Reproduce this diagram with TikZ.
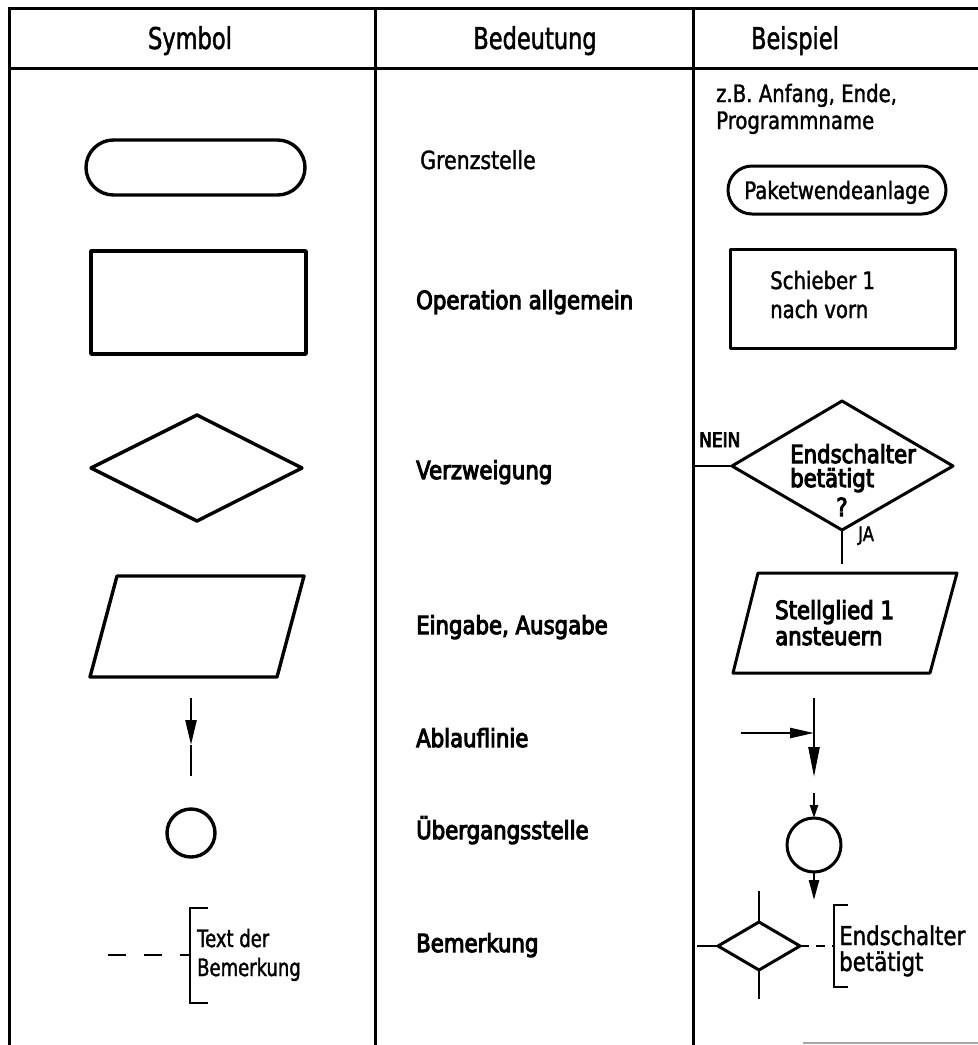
\documentclass[tikz,border=0pt]{standalone}
\usepackage{fontspec}
\setmainfont[FakeStretch=0.82,FakeBold=1.5]{DejaVu Sans}
\newfontfamily\hdrfont[FakeStretch=0.75,FakeBold=1.5]{DejaVu Sans}
\newfontfamily\regfont[FakeStretch=0.82,FakeBold=1.5]{DejaVu Sans}
\newfontfamily\heavyfont[FakeStretch=0.85,FakeBold=4]{DejaVu Sans}
\newfontfamily\notefont[FakeStretch=0.75,FakeBold=1.5]{DejaVu Sans}
\usetikzlibrary{arrows.meta,calc}
\begin{document}
\begin{tikzpicture}[x=1pt,y=-1pt,
  frame/.style={line width=3pt},
  outline/.style={line width=3.4pt,line join=round},
  exoutline/.style={line width=3pt,line join=round},
  conn/.style={line width=2.4pt},
  hdr/.style={font=\hdrfont\fontsize{30}{32}\selectfont,anchor=base,inner sep=0},
  mid/.style={font=\regfont\fontsize{25}{28}\selectfont,anchor=base west,inner sep=0},
  midb/.style={font=\heavyfont\fontsize{25}{28}\selectfont,anchor=base west,inner sep=0},
  ex/.style={font=\regfont\fontsize{24}{27}\selectfont,anchor=base west,inner sep=0},
  exb/.style={font=\heavyfont\fontsize{25}{28}\selectfont,anchor=base west,inner sep=0},
  small/.style={font=\regfont\fontsize{20}{22}\selectfont,anchor=base west,inner sep=0},
  smallb/.style={font=\heavyfont\fontsize{20}{22}\selectfont,anchor=base west,inner sep=0},
  note/.style={font=\notefont\fontsize{24}{26}\selectfont,anchor=base west,inner sep=0},
  notebig/.style={font=\regfont\fontsize{26}{28}\selectfont,anchor=base west,inner sep=0}]
\useasboundingbox (0,0) rectangle (978,1045);
\fill[white] (0,0) rectangle (978,1045);

% table frame
\draw[frame] (978,8) -- (9,8) -- (9,1045);
\draw[frame] (375,8) -- (375,1045);
\draw[frame] (693,8) -- (693,1045);
\draw[frame] (9,68) -- (978,68);
\draw[line width=2pt,gray!70] (803,1043) -- (978,1043);

% header
\node[hdr] (hsym) at (190,49) {Symbol};
\node[hdr] (hbed) at (535,49) {Bedeutung};
\node[hdr] (hbei) at (795,49) {Beispiel};

% meanings
\node[mid]  (m1) at (420,169) {Grenzstelle};
\node[midb] (m2) at (416,309) {Operation allgemein};
\node[midb] (m3) at (416,479) {Verzweigung};
\node[midb] (m4) at (416,634) {Eingabe, Ausgabe};
\node[midb] (m5) at (416,747) {Ablauflinie};
\node[midb] (m6) at (416,839) {Übergangsstelle};
\node[midb] (m7) at (416,952) {Bemerkung};

% symbols
\draw[outline,rounded corners=27.5pt] (86,140) rectangle (305,195);
\draw[outline] (91,251) rectangle (306,354);
\draw[outline] (91,468) -- (197,415) -- (302,468) -- (197,521) -- cycle;
\draw[outline] (117,576) -- (304,576) -- (277,677) -- (90,677) -- cycle;

\coordinate (s1) at (191,698);
\coordinate (s2) at (191,745);
\coordinate (s3) at (191,776);
\draw[conn,-{Triangle[length=25pt,width=11pt]}] (s1) -- (s2);
\draw[conn] (s2) -- (s3);

\draw[outline] (191,833) circle (24);

\coordinate (d0) at (108,955);
\coordinate (d1) at (190,955);
\draw[conn,dash pattern=on 18pt off 18pt] (d0) -- (d1);
\draw[conn] (208,908) -- (190,908) -- (190,1003) -- (208,1003);
\node[note] (n1) at (197,947) {Text der};
\node[note] (n2) at (197,976) {Bemerkung};

% examples: terminator and operation
\node[ex] (e1) at (716,102) {z.B.\ Anfang, Ende,};
\node[ex] (e2) at (716,129) {Programmname};
\draw[exoutline,rounded corners=24pt] (728,166) rectangle (946,214);
\node[ex,anchor=base] (e3) at (837,199) {Paketwendeanlage};
\draw[exoutline] (730,249) rectangle (955,348);
\node[ex] (e4) at (770,289) {Schieber 1};
\node[ex] (e5) at (770,318) {nach vorn};

% example: branch
\coordinate (bl) at (732,466);
\coordinate (bt) at (842,401);
\coordinate (br) at (953,466);
\coordinate (bb) at (842,530);
\draw[exoutline] (bl) -- (bt) -- (br) -- (bb) -- cycle;
\coordinate (bin) at (694,466);
\coordinate (bout) at (842,564);
\draw[conn] (bin) -- (bl);
\draw[conn] (bb) -- (bout);
\node[smallb] (nein) at (699,447) {NEIN};
\node[small] (ja) at (858,541) {JA};
\node[exb] (e6) at (790,463) {Endschalter};
\node[exb] (e7) at (790,487) {betätigt};
\node[exb,anchor=base] (e8) at (842,516) {?};

% example: input/output
\draw[exoutline] (758,573) -- (957,573) -- (930,673) -- (733,673) -- cycle;
\node[exb] (e9) at (775,619) {Stellglied 1};
\node[exb] (e10) at (775,645) {ansteuern};

% example: flow lines
\coordinate (f1) at (741,733);
\coordinate (f2) at (814,733);
\coordinate (f3) at (814,698);
\coordinate (f4) at (814,777);
\draw[conn,-{Triangle[length=24pt,width=10pt]}] (f1) -- (f2);
\draw[conn,-{Triangle[length=30pt,width=11pt]}] (f3) -- (f4);

% example: connector circle
\coordinate (c0) at (814,793);
\coordinate (ct) at (814,818);
\coordinate (cb) at (814,872);
\coordinate (c1) at (814,900);
\draw[exoutline] (814,845) circle (27);
\draw[conn,-{Triangle[length=13pt,width=8pt]}] (c0) -- (ct);
\draw[conn,-{Triangle[length=20pt,width=10pt]}] (cb) -- (c1);

% example: comment
\coordinate (ql) at (718,946);
\coordinate (qt) at (759,922);
\coordinate (qr) at (800,946);
\coordinate (qb) at (759,970);
\draw[exoutline] (ql) -- (qt) -- (qr) -- (qb) -- cycle;
\draw[conn] (759,891) -- (qt);
\draw[conn] (qb) -- (759,999);
\draw[conn] (697,946) -- (ql);
\coordinate (qk) at (834,946);
\draw[conn,dash pattern=on 9pt off 7pt] (qr) -- (qk);
\draw[conn] (848,905) -- (834,905) -- (834,987) -- (848,987);
\node[notebig] (e11) at (839,945) {Endschalter};
\node[notebig] (e12) at (839,971) {betätigt};
\end{tikzpicture}
\end{document}
